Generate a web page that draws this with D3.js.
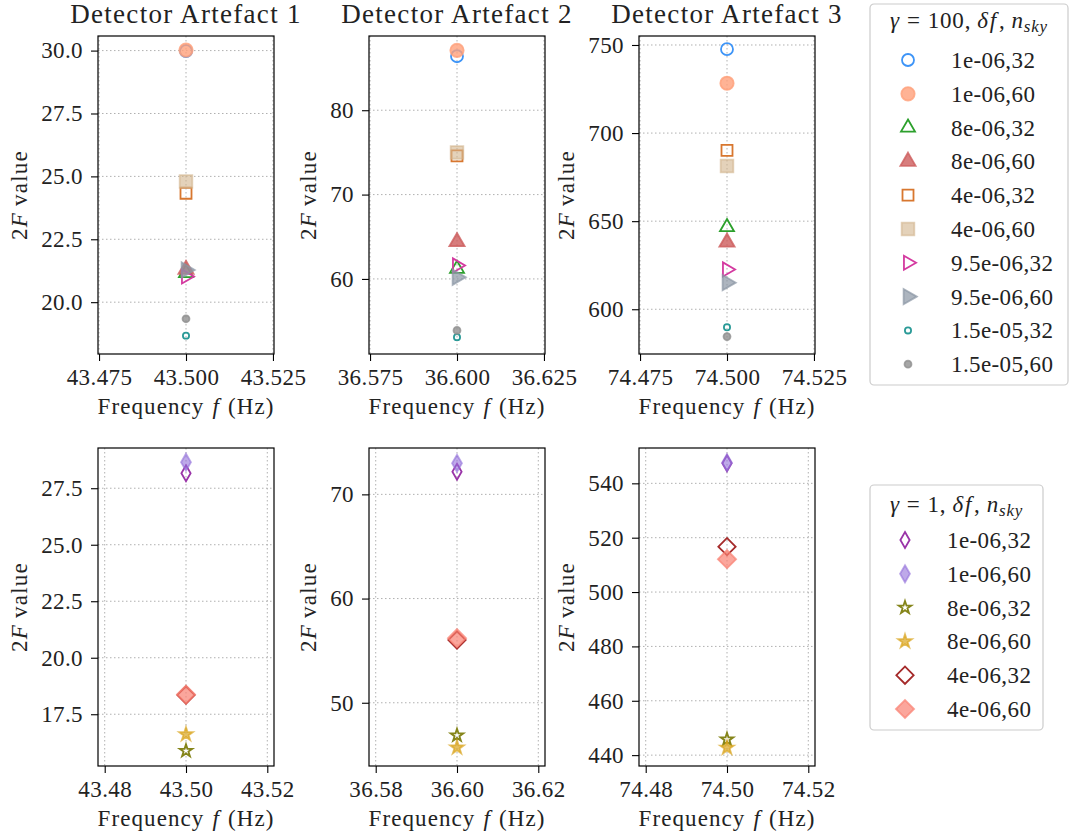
<!DOCTYPE html>
<html>
<head>
<meta charset="utf-8">
<script src="https://cdn.jsdelivr.net/npm/d3@7"></script>
<style>
body { margin: 0; background: #fff; }
text { font-family: "Liberation Serif", "Times New Roman", serif; fill: #222; }
</style>
</head>
<body>
<div id="graph"></div>
<script>
// values
var artefacts = ['Detector Artefact 1', 'Detector Artefact 2', 'Detector Artefact 3']
var centreFreqs = [43.5, 36.6, 74.5]

// gamma = 100 runs, label = "df,n_sky"
var topLabels = ['1e-06,32', '1e-06,60', '8e-06,32', '8e-06,60', '4e-06,32',
  '4e-06,60', '9.5e-06,32', '9.5e-06,60', '1.5e-05,32', '1.5e-05,60']
var topValues = [
  [29.98, 30.02, 21.16, 21.3, 24.33, 24.8, 21.02, 21.28, 18.67, 19.34],
  [86.4, 87.1, 61.2, 64.4, 74.6, 75.0, 61.6, 60.2, 53.1, 53.9],
  [747.6, 728.3, 646.6, 638.0, 690.2, 681.3, 622.6, 615.1, 589.8, 584.5]
]
var topDomains = [[17.94, 30.58], [51.1, 88.8], [574.6, 755.1]]
var topYTicks = [[20, 22.5, 25, 27.5, 30], [60, 70, 80], [600, 650, 700, 750]]
var topXOffsets = [-0.025, 0, 0.025]

// gamma = 1 runs
var bottomLabels = ['1e-06,32', '1e-06,60', '8e-06,32', '8e-06,60', '4e-06,32', '4e-06,60']
var bottomValues = [
  [28.16, 28.65, 15.88, 16.61, 18.35, 18.37],
  [72.17, 72.98, 46.87, 45.7, 56.02, 56.2],
  [547.4, 547.6, 445.8, 442.7, 516.7, 512.1]
]
var bottomDomains = [[15.21, 29.28], [43.93, 74.45], [436, 553]]
var bottomYTicks = [[17.5, 20, 22.5, 25, 27.5], [50, 60, 70], [440, 460, 480, 500, 520, 540]]
var bottomXOffsets = [-0.02, 0, 0.02]

var yFormats = ['.1f', 'd', 'd']

// marker styles (matplotlib-ish)
var topStyles = [
  {type: d3.symbolCircle, size: 113, fill: 'none', stroke: '#3d94f7'},
  {type: d3.symbolCircle, size: 140, fill: '#ffa07a', stroke: '#ffa07a', op: 0.8},
  {type: d3.symbolTriangle, size: 85, fill: 'none', stroke: '#2ca02c'},
  {type: d3.symbolTriangle, size: 100, fill: '#cd5c5c', stroke: '#cd5c5c', op: 0.8},
  {type: d3.symbolSquare, size: 121, fill: 'none', stroke: '#d8772f'},
  {type: d3.symbolSquare, size: 160, fill: '#d2b48c', stroke: '#d2b48c', op: 0.6},
  {type: d3.symbolTriangle, size: 85, fill: 'none', stroke: '#d43aa0', rot: 90},
  {type: d3.symbolTriangle, size: 100, fill: '#8a96a4', stroke: '#8a96a4', op: 0.7, rot: 90},
  {type: d3.symbolCircle, size: 30, fill: 'none', stroke: '#2a9a97'},
  {type: d3.symbolCircle, size: 38, fill: '#909090', stroke: '#909090', op: 0.8}
]
var bottomStyles = [
  {type: d3.symbolDiamond, size: 74, fill: 'none', stroke: '#9a34a8'},
  {type: d3.symbolDiamond, size: 85, fill: '#9370db', stroke: '#9370db', op: 0.6},
  {type: d3.symbolStar, size: 50, fill: 'none', stroke: '#85851a'},
  {type: d3.symbolStar, size: 58, fill: '#daa520', stroke: '#daa520', op: 0.7},
  {type: d3.symbolSquare, size: 150, fill: 'none', stroke: '#a52a2a', rot: 45},
  {type: d3.symbolSquare, size: 165, fill: '#fa8072', stroke: '#fa8072', op: 0.7, rot: 45}
]

var colLeft = [98, 369, 639], panelW = 176
var rowTop = [36, 448], panelH = 318

var svg = d3.select('#graph').append('svg')
  .attr('width', 1076).attr('height', 839)

function markerPath(st) {
  return d3.symbol().type(st.type).size(st.size)()
}

function drawMarker(sel, st, x, y) {
  sel.append('path')
    .attr('d', markerPath(st))
    .attr('transform', 'translate(' + x + ',' + y + ')' + (st.rot ? ' rotate(' + st.rot + ')' : ''))
    .attr('fill', st.fill)
    .attr('fill-opacity', st.op || 1)
    .attr('stroke', st.stroke)
    .attr('stroke-opacity', st.op || 1)
    .attr('stroke-width', 1.8)
}

function panel(row, col, values, styles, domain, yTicks, xOffsets, xFmt, halfW) {
  var left = colLeft[col], top = rowTop[row]
  var g = svg.append('g').attr('transform', 'translate(' + left + ',' + top + ')')
  var c = centreFreqs[col]

  var x = d3.scaleLinear().domain([c - halfW, c + halfW]).range([0, panelW])
  var y = d3.scaleLinear().domain(domain).range([panelH, 0])
  var xTicks = xOffsets.map(d => c + d)

  // grid
  g.append('g').selectAll('line').data(yTicks).join('line')
    .attr('x1', 0).attr('x2', panelW)
    .attr('y1', d => y(d)).attr('y2', d => y(d))
    .attr('stroke', '#b0b0b0').attr('stroke-dasharray', '1.5,2.5')
  g.append('g').selectAll('line').data(xTicks).join('line')
    .attr('y1', 0).attr('y2', panelH)
    .attr('x1', d => x(d)).attr('x2', d => x(d))
    .attr('stroke', '#b0b0b0').attr('stroke-dasharray', '1.5,2.5')

  var yAxis = g.append('g')
    .call(d3.axisLeft(y).tickValues(yTicks).tickFormat(d3.format(yFormats[col])).tickSize(7).tickPadding(8))
  var xAxis = g.append('g').attr('transform', 'translate(0,' + panelH + ')')
    .call(d3.axisBottom(x).tickValues(xTicks).tickFormat(d3.format(xFmt)).tickSize(7).tickPadding(8))
  ;[yAxis, xAxis].forEach(a => {
    a.select('.domain').remove()
    a.selectAll('text').style('font-family', '"Liberation Serif", serif').style('font-size', '23px')
      .style('letter-spacing', '0.4px').attr('fill', '#222')
    a.selectAll('line').attr('stroke', '#000').attr('stroke-width', 1.1)
  })

  g.append('rect').attr('width', panelW).attr('height', panelH)
    .attr('fill', 'none').attr('stroke', '#000').attr('stroke-width', 1.2)

  // points
  var pts = g.append('g')
  values.forEach((v, i) => drawMarker(pts, styles[i], x(c), y(v)))

  // labels
  var xl = g.append('text').attr('x', panelW / 2).attr('y', panelH + 60)
    .attr('text-anchor', 'middle').style('font-size', '23px').style('letter-spacing', '1.1px')
  xl.append('tspan').text('Frequency')
  xl.append('tspan').attr('dx', 8).style('font-style', 'italic').text('f')
  xl.append('tspan').attr('dx', 8).text('(Hz)')

  var bb = yAxis.node().getBBox()
  var yl = g.append('text')
    .attr('transform', 'translate(' + (bb.x - 14) + ',' + panelH / 2 + ') rotate(-90)')
    .attr('text-anchor', 'middle').style('font-size', '23px').style('letter-spacing', '1.2px')
  yl.append('tspan').text('2')
  yl.append('tspan').style('font-style', 'italic').text('F')
  yl.append('tspan').attr('dx', 6).text('value')

  if (row == 0) {
    g.append('text').attr('x', panelW / 2).attr('y', -13)
      .attr('text-anchor', 'middle').style('font-size', '27px').style('letter-spacing', '1.3px')
      .text(artefacts[col])
  }
}

for (var k = 0; k < 3; k++) {
  panel(0, k, topValues[k], topStyles, topDomains[k], topYTicks[k], topXOffsets, '.3f', 0.0253)
  panel(1, k, bottomValues[k], bottomStyles, bottomDomains[k], bottomYTicks[k], bottomXOffsets, '.2f', 0.02165)
}

function legend(x0, y0, w, h, gammaText, labels, styles, titleY, firstY, markerX, textX) {
  var g = svg.append('g')
  g.append('rect').attr('x', x0).attr('y', y0).attr('width', w).attr('height', h)
    .attr('rx', 4).attr('fill', '#fff').attr('fill-opacity', 0.8)
    .attr('stroke', '#cccccc').attr('stroke-width', 1.2)
  var t = g.append('text').attr('x', x0 + w / 2).attr('y', titleY)
    .attr('text-anchor', 'middle').style('font-size', '23px').style('letter-spacing', '0.8px')
  t.append('tspan').style('font-style', 'italic').text('γ')
  t.append('tspan').attr('dx', 7).text('=')
  t.append('tspan').attr('dx', 7).text(gammaText + ',')
  t.append('tspan').attr('dx', 6).style('font-style', 'italic').text('δ')
  t.append('tspan').attr('dx', 1).style('font-style', 'italic').text('f')
  t.append('tspan').attr('dx', 2).text(',')
  t.append('tspan').attr('dx', 6).style('font-style', 'italic').text('n')
  t.append('tspan').style('font-style', 'italic').style('font-size', '17px').attr('dy', 4).text('sky')

  labels.forEach((lab, i) => {
    var cy = firstY + i * 33.8
    drawMarker(g, styles[i], markerX, cy)
    g.append('text').attr('x', textX).attr('y', cy + 8).style('font-size', '23px')
      .style('letter-spacing', '0.4px').text(lab)
  })
}

legend(870, 4, 198, 381, '100', topLabels, topStyles, 28, 60, 908, 951)
legend(870, 485, 173, 245, '1', bottomLabels, bottomStyles, 512, 540, 905, 947)
</script>
</body>
</html>
